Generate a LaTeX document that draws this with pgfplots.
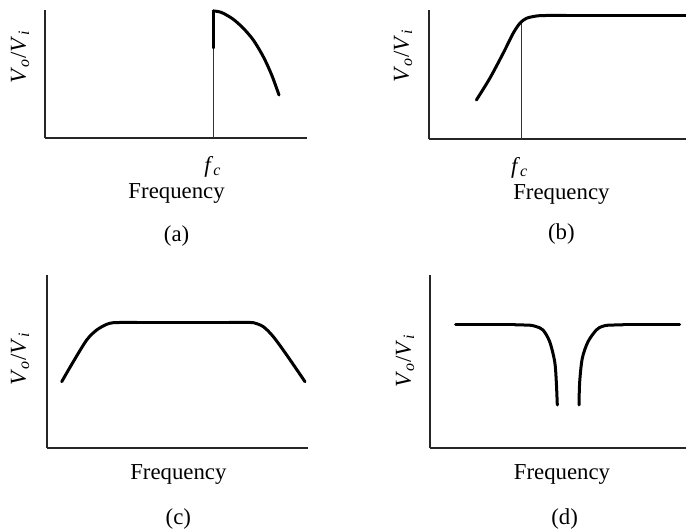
\documentclass[border=0pt]{standalone}
\usepackage{fontspec}
\setmainfont{Liberation Serif}
\usepackage{pgfplots}
\pgfplotsset{compat=1.18}
\pgfplotsset{
  filt/.style={
    scale only axis, anchor=south west, xmin=0, ymin=0,
    axis x line=bottom, axis y line=left, axis line style={-, line width=0.6pt, black!85},
    xtick=\empty, ytick=\empty, clip=false,
  },
  curve/.style={line width=1.5pt, black, no markers, line cap=round, line join=round},
  guide/.style={line width=0.4pt, black!80, no markers},
}
\newcommand{\VoVi}{\textit{V}\textsubscript{\textit{o}}/\textit{V}\textsubscript{\textit{i}}}
\newcommand{\fc}{\textit{f}\textsubscript{\textit{c}}}
\begin{document}
\begin{tikzpicture}[every node/.style={font=\fontsize{11.4}{13.7}\selectfont, inner sep=0pt}]
\path[use as bounding box] (0,0) rectangle (343pt,264.5pt);
% (a)
\begin{axis}[filt, at={(22.5pt,195.5pt)}, width=131pt, height=64pt, xmax=262, ymax=128]
\addplot[guide] coordinates {(168.5,0) (168.5,90)};
\addplot[curve] coordinates {(168.5,90) (168.5,127)};
\addplot[curve, smooth] coordinates {(168.3,127) (173,126.5) (178.3,124.7) (188.3,118.7) (198.3,109.7) (208.3,98) (218.3,81.3) (226.7,63) (234,43)};
\end{axis}
% (b)
\begin{axis}[filt, at={(214.5pt,195pt)}, width=128.5pt, height=64.5pt, xmax=257, ymax=129]
\addplot[guide] coordinates {(92.3,0) (92.3,116)};
\addplot[curve, smooth, tension=0.5] coordinates {(47.3,39) (60.7,60.7) (74,85.7) (84,105.7) (90.7,115.7) (97.3,120.7) (107.3,123) (117,123.5) (127,123.5) (137,123.5)};
\addplot[curve] coordinates {(137,123.5) (257,123.5)};
\end{axis}
% (c)
\begin{axis}[filt, at={(23.5pt,40.5pt)}, width=130.5pt, height=86.5pt, xmax=261, ymax=173]
\addplot[curve, smooth, tension=0.5] coordinates {(14.7,66.3) (26.3,86.3) (39.7,108) (49.7,118) (59.7,123.7) (66.3,125.3) (74,125.5) (82,125.5) (90,125.5)};
\addplot[curve] coordinates {(90,125.5) (182,125.5)};
\addplot[curve, smooth, tension=0.5] coordinates {(182,125.5) (190,125.5) (198,125.5) (206.3,125.3) (216.3,121.3) (226.3,111.3) (239.7,93) (258,66.3)};
\end{axis}
% (d)
\begin{axis}[filt, at={(215pt,40.5pt)}, width=128pt, height=86.5pt, xmax=256, ymax=173]
\addplot[curve] coordinates {(25.7,123) (85,123)};
\addplot[curve, smooth, tension=0.5] coordinates {(85,123) (93,123) (100,122.8) (106,121.5) (113,118) (119.7,106.3) (124.7,86.3) (126.3,66.3) (127.3,43)};
\addplot[curve, smooth, tension=0.5] coordinates {(149,43) (149.7,66.3) (152.3,89.7) (158,106.3) (166.3,118) (172,121.5) (178,122.8) (185,123) (193,123)};
\addplot[curve] coordinates {(193,123) (249.7,123)};
\end{axis}
% labels
\node at (106.5pt,181pt) {\fc};
\node at (88.3pt,167.5pt) {Frequency};
\node at (88.3pt,146.5pt) {(a)};
\node[rotate=90] at (10pt,236pt) {\VoVi};
\node at (259.8pt,180.5pt) {\fc};
\node at (280.7pt,167pt) {Frequency};
\node at (280.7pt,147.5pt) {(b)};
\node[rotate=90] at (201.5pt,236.5pt) {\VoVi};
\node at (89.2pt,27pt) {Frequency};
\node at (89.2pt,4.8pt) {(c)};
\node[rotate=90] at (10pt,85pt) {\VoVi};
\node at (281pt,27pt) {Frequency};
\node at (282.3pt,4.8pt) {(d)};
\node[rotate=90] at (202.5pt,84pt) {\VoVi};
\end{tikzpicture}
\end{document}
